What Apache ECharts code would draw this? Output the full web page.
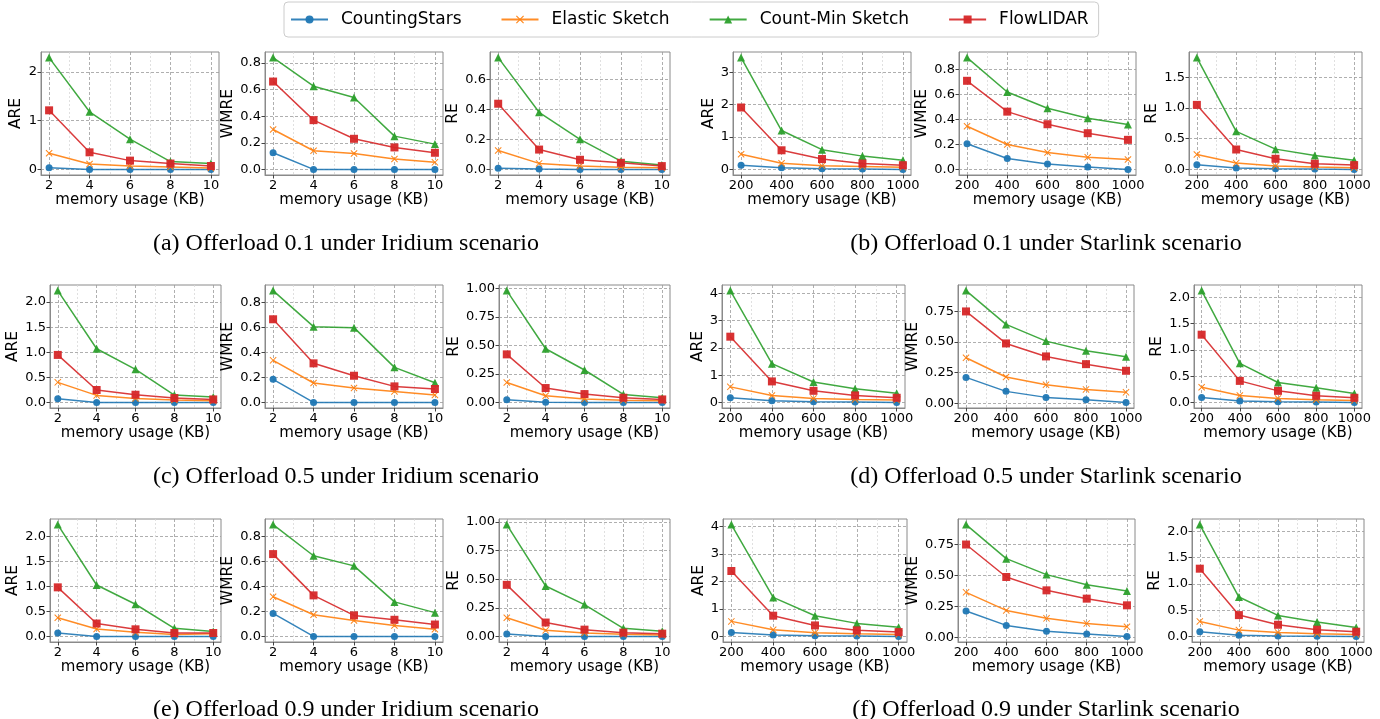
<!DOCTYPE html>
<html><head><meta charset="utf-8">
<script src="https://cdn.jsdelivr.net/npm/echarts@6/dist/echarts.min.js"></script>
<style>html,body{margin:0;padding:0;background:#fff;}#c{width:1380px;height:719px;}</style>
</head><body><div id="c"></div>
<script>
const seriesNames = ['CountingStars', 'Elastic Sketch', 'Count-Min Sketch', 'FlowLIDAR'];
const iridiumMemory = [2, 4, 6, 8, 10];
const starlinkMemory = [200, 400, 600, 800, 1000];
const iridiumTicks = ['2', '4', '6', '8', '10'];
const iridiumMinorTicks = [3, 5, 7, 9];
const starlinkTicks = ['200', '400', '600', '800', '1000'];
const starlinkMinorTicks = [300, 500, 700, 900];
const xAxisName = 'memory usage (KB)';
const captions = [
  '(a) Offerload 0.1 under Iridium scenario', '(b) Offerload 0.1 under Starlink scenario',
  '(c) Offerload 0.5 under Iridium scenario', '(d) Offerload 0.5 under Starlink scenario',
  '(e) Offerload 0.9 under Iridium scenario', '(f) Offerload 0.9 under Starlink scenario'
];

// (a) Offerload 0.1, Iridium
const a_ARE_CS = [0.035, 0, 0, 0, 0];
const a_ARE_ES = [0.33, 0.11, 0.07, 0.05, 0.03];
const a_ARE_CMS = [2.29, 1.18, 0.62, 0.16, 0.12];
const a_ARE_FL = [1.21, 0.35, 0.18, 0.12, 0.07];
const a_WMRE_CS = [0.125, 0, 0, 0, 0];
const a_WMRE_ES = [0.30, 0.14, 0.12, 0.078, 0.053];
const a_WMRE_CMS = [0.84, 0.625, 0.54, 0.25, 0.19];
const a_WMRE_FL = [0.66, 0.37, 0.23, 0.165, 0.125];
const a_RE_CS = [0.007, 0.002, 0, 0, 0];
const a_RE_ES = [0.126, 0.04, 0.022, 0.015, 0.011];
const a_RE_CMS = [0.744, 0.38, 0.20, 0.055, 0.03];
const a_RE_FL = [0.437, 0.132, 0.064, 0.044, 0.022];
// (b) Offerload 0.1, Starlink
const b_ARE_CS = [0.13, 0.05, 0.02, 0.01, 0];
const b_ARE_ES = [0.47, 0.19, 0.11, 0.09, 0.07];
const b_ARE_CMS = [3.45, 1.2, 0.61, 0.41, 0.28];
const b_ARE_FL = [1.91, 0.59, 0.32, 0.18, 0.13];
const b_WMRE_CS = [0.205, 0.088, 0.043, 0.019, 0];
const b_WMRE_ES = [0.346, 0.2, 0.136, 0.098, 0.08];
const b_WMRE_CMS = [0.896, 0.62, 0.49, 0.41, 0.36];
const b_WMRE_FL = [0.71, 0.463, 0.362, 0.29, 0.237];
const b_RE_CS = [0.076, 0.022, 0.011, 0.005, 0];
const b_RE_ES = [0.243, 0.103, 0.054, 0.038, 0.027];
const b_RE_CMS = [1.82, 0.62, 0.33, 0.227, 0.15];
const b_RE_FL = [1.05, 0.324, 0.173, 0.092, 0.07];
// (c) Offerload 0.5, Iridium
const c_ARE_CS = [0.073, 0, 0, 0, 0];
const c_ARE_ES = [0.40, 0.14, 0.08, 0.047, 0.033];
const c_ARE_CMS = [2.23, 1.07, 0.66, 0.147, 0.107];
const c_ARE_FL = [0.947, 0.247, 0.153, 0.087, 0.06];
const c_WMRE_CS = [0.184, 0, 0, 0, 0];
const c_WMRE_ES = [0.336, 0.155, 0.115, 0.088, 0.059];
const c_WMRE_CMS = [0.893, 0.605, 0.597, 0.28, 0.157];
const c_WMRE_FL = [0.664, 0.312, 0.213, 0.128, 0.107];
const c_RE_CS = [0.023, 0.002, 0, 0, 0];
const c_RE_ES = [0.175, 0.058, 0.029, 0.02, 0.015];
const c_RE_CMS = [0.98, 0.47, 0.284, 0.07, 0.041];
const c_RE_FL = [0.421, 0.126, 0.073, 0.041, 0.026];
// (d) Offerload 0.5, Starlink
const d_ARE_CS = [0.17, 0.06, 0.024, 0.012, 0];
const d_ARE_ES = [0.57, 0.255, 0.146, 0.11, 0.085];
const d_ARE_CMS = [4.1, 1.42, 0.75, 0.5, 0.34];
const d_ARE_FL = [2.41, 0.77, 0.425, 0.255, 0.17];
const d_WMRE_CS = [0.212, 0.098, 0.049, 0.03, 0.008];
const d_WMRE_ES = [0.372, 0.215, 0.152, 0.114, 0.09];
const d_WMRE_CMS = [0.92, 0.644, 0.508, 0.43, 0.38];
const d_WMRE_FL = [0.75, 0.489, 0.383, 0.32, 0.266];
const d_RE_CS = [0.095, 0.025, 0.013, 0.006, 0];
const d_RE_ES = [0.29, 0.132, 0.076, 0.05, 0.038];
const d_RE_CMS = [2.13, 0.745, 0.38, 0.278, 0.17];
const d_RE_FL = [1.29, 0.41, 0.22, 0.126, 0.088];
// (e) Offerload 0.9, Iridium
const e_ARE_CS = [0.068, 0, 0, 0, 0];
const e_ARE_ES = [0.373, 0.149, 0.081, 0.04, 0.054];
const e_ARE_CMS = [2.24, 1.03, 0.644, 0.163, 0.10];
const e_ARE_FL = [0.983, 0.258, 0.142, 0.068, 0.068];
const e_WMRE_CS = [0.184, 0, 0, 0, 0];
const e_WMRE_ES = [0.317, 0.173, 0.127, 0.087, 0.057];
const e_WMRE_CMS = [0.894, 0.645, 0.564, 0.276, 0.19];
const e_WMRE_FL = [0.658, 0.328, 0.168, 0.133, 0.095];
const e_RE_CS = [0.021, 0, 0, 0, 0];
const e_RE_ES = [0.163, 0.053, 0.03, 0.018, 0.012];
const e_RE_CMS = [0.976, 0.44, 0.278, 0.071, 0.044];
const e_RE_FL = [0.45, 0.121, 0.059, 0.033, 0.024];
// (f) Offerload 0.9, Starlink
const f_ARE_CS = [0.146, 0.049, 0.024, 0.012, 0];
const f_ARE_ES = [0.547, 0.243, 0.134, 0.097, 0.073];
const f_ARE_CMS = [4.07, 1.42, 0.754, 0.474, 0.33];
const f_ARE_FL = [2.38, 0.754, 0.4, 0.22, 0.158];
const f_WMRE_CS = [0.213, 0.097, 0.049, 0.027, 0.008];
const f_WMRE_ES = [0.364, 0.218, 0.154, 0.113, 0.086];
const f_WMRE_CMS = [0.911, 0.636, 0.507, 0.426, 0.375];
const f_WMRE_FL = [0.75, 0.488, 0.38, 0.313, 0.259];
const f_RE_CS = [0.089, 0.02, 0.01, 0.005, 0];
const f_RE_ES = [0.286, 0.12, 0.076, 0.05, 0.038];
const f_RE_CMS = [2.13, 0.75, 0.40, 0.273, 0.17];
const f_RE_FL = [1.29, 0.406, 0.222, 0.127, 0.089];

// y tick labels
const yTicks_a_ARE = ['0', '1', '2'];
const yTicks_a_WMRE = ['0.0', '0.2', '0.4', '0.6', '0.8'];
const yTicks_a_RE = ['0.0', '0.2', '0.4', '0.6'];
const yTicks_b_ARE = ['0', '1', '2', '3'];
const yTicks_b_WMRE = ['0.0', '0.2', '0.4', '0.6', '0.8'];
const yTicks_b_RE = ['0.0', '0.5', '1.0', '1.5'];
const yTicks_c_ARE = ['0.0', '0.5', '1.0', '1.5', '2.0'];
const yTicks_c_WMRE = ['0.0', '0.2', '0.4', '0.6', '0.8'];
const yTicks_c_RE = ['0.00', '0.25', '0.50', '0.75', '1.00'];
const yTicks_d_ARE = ['0', '1', '2', '3', '4'];
const yTicks_d_WMRE = ['0.00', '0.25', '0.50', '0.75'];
const yTicks_d_RE = ['0.0', '0.5', '1.0', '1.5', '2.0'];
const yTicks_e_ARE = ['0.0', '0.5', '1.0', '1.5', '2.0'];
const yTicks_e_WMRE = ['0.0', '0.2', '0.4', '0.6', '0.8'];
const yTicks_e_RE = ['0.00', '0.25', '0.50', '0.75', '1.00'];
const yTicks_f_ARE = ['0', '1', '2', '3', '4'];
const yTicks_f_WMRE = ['0.00', '0.25', '0.50', '0.75'];
const yTicks_f_RE = ['0.0', '0.5', '1.0', '1.5', '2.0'];

// panels in visual order: each row = iridium (ARE, WMRE, RE) + starlink (ARE, WMRE, RE)
const panels = [
  ['ARE', 'ir', [a_ARE_CS, a_ARE_ES, a_ARE_CMS, a_ARE_FL], yTicks_a_ARE],
  ['WMRE', 'ir', [a_WMRE_CS, a_WMRE_ES, a_WMRE_CMS, a_WMRE_FL], yTicks_a_WMRE],
  ['RE', 'ir', [a_RE_CS, a_RE_ES, a_RE_CMS, a_RE_FL], yTicks_a_RE],
  ['ARE', 'st', [b_ARE_CS, b_ARE_ES, b_ARE_CMS, b_ARE_FL], yTicks_b_ARE],
  ['WMRE', 'st', [b_WMRE_CS, b_WMRE_ES, b_WMRE_CMS, b_WMRE_FL], yTicks_b_WMRE],
  ['RE', 'st', [b_RE_CS, b_RE_ES, b_RE_CMS, b_RE_FL], yTicks_b_RE],
  ['ARE', 'ir', [c_ARE_CS, c_ARE_ES, c_ARE_CMS, c_ARE_FL], yTicks_c_ARE],
  ['WMRE', 'ir', [c_WMRE_CS, c_WMRE_ES, c_WMRE_CMS, c_WMRE_FL], yTicks_c_WMRE],
  ['RE', 'ir', [c_RE_CS, c_RE_ES, c_RE_CMS, c_RE_FL], yTicks_c_RE],
  ['ARE', 'st', [d_ARE_CS, d_ARE_ES, d_ARE_CMS, d_ARE_FL], yTicks_d_ARE],
  ['WMRE', 'st', [d_WMRE_CS, d_WMRE_ES, d_WMRE_CMS, d_WMRE_FL], yTicks_d_WMRE],
  ['RE', 'st', [d_RE_CS, d_RE_ES, d_RE_CMS, d_RE_FL], yTicks_d_RE],
  ['ARE', 'ir', [e_ARE_CS, e_ARE_ES, e_ARE_CMS, e_ARE_FL], yTicks_e_ARE],
  ['WMRE', 'ir', [e_WMRE_CS, e_WMRE_ES, e_WMRE_CMS, e_WMRE_FL], yTicks_e_WMRE],
  ['RE', 'ir', [e_RE_CS, e_RE_ES, e_RE_CMS, e_RE_FL], yTicks_e_RE],
  ['ARE', 'st', [f_ARE_CS, f_ARE_ES, f_ARE_CMS, f_ARE_FL], yTicks_f_ARE],
  ['WMRE', 'st', [f_WMRE_CS, f_WMRE_ES, f_WMRE_CMS, f_WMRE_FL], yTicks_f_WMRE],
  ['RE', 'st', [f_RE_CS, f_RE_ES, f_RE_CMS, f_RE_FL], yTicks_f_RE]
];

// ---- layout (pixels) ----
const rowTop = [52, 285, 519];
const plotH = 123;
const colEdges = [
  [[41, 219], [265, 443], [490, 670], [733, 911], [959, 1136], [1189, 1362]],
  [[50, 221], [265, 443], [499, 670], [722, 905], [958, 1134], [1194, 1362]],
  [[50, 221], [265, 443], [499, 670], [723, 907], [958, 1135], [1192, 1364]]
];
const yNameCenter = [
  [16, 241, 462, 716, 931, 1157],
  [17, 241, 461, 715, 929, 1162],
  [17, 241, 462, 712, 928, 1166]
];
const captionCenterX = [341, 1041];
const captionCenterY = [241, 474, 707];

const colors = ['#1f77b4', '#ff7f0e', '#2ca02c', '#d62728'];
const xSymbol = 'path://M1,0L5,4L9,0L10,1L6,5L10,9L9,10L5,6L1,10L0,9L4,5L0,1Z';
const symbols = ['circle', xSymbol, 'triangle', 'rect'];
const symbolSizes = [7, 7, 8, 8];
const FONT = 'DejaVu Sans';

const grids = [], xAxes = [], yAxes = [], series = [], titles = [];
const minorX = [];

panels.forEach((p, i) => {
  const row = Math.floor(i / 6), col = i % 6;
  const [metric, kind, vals, yt] = p;
  const [l, r] = colEdges[row][col];
  grids.push({left: l, top: rowTop[row], width: r - l, height: plotH,
    show: true, borderColor: '#8a8a8a', borderWidth: 1, backgroundColor: 'transparent'});
  const mem = kind === 'ir' ? iridiumMemory : starlinkMemory;
  const xt = kind === 'ir' ? iridiumTicks : starlinkTicks;
  const xr = mem[mem.length - 1] - mem[0];
  const xmin = mem[0] - 0.05 * xr, xmax = mem[mem.length - 1] + 0.05 * xr;
  const all = [].concat(...vals);
  const lo = Math.min(...all), hi = Math.max(...all);
  const ymin = lo - 0.05 * (hi - lo), ymax = hi + 0.05 * (hi - lo);
  const xVals = xt.map(Number), yVals = yt.map(Number);
  xAxes.push({
    type: 'value', gridIndex: i, min: xmin, max: xmax,
    name: xAxisName, nameLocation: 'middle', nameGap: 18,
    nameTextStyle: {fontFamily: FONT, fontSize: 15, color: '#000', verticalAlign: 'top'},
    axisLine: {show: true, onZero: false, lineStyle: {color: '#8a8a8a', width: 1}},
    axisTick: {show: true, length: 3.5, customValues: xVals, lineStyle: {color: '#444'}},
    axisLabel: {show: true, margin: 4, customValues: xVals, fontFamily: FONT, fontSize: 13, color: '#000',
      formatter: v => xt[xVals.indexOf(v)] !== undefined ? xt[xVals.indexOf(v)] : ''},
    splitLine: {show: true, lineStyle: {color: '#9a9a9a', type: [3, 2], width: 0.8}}
  });
  minorX.push({
    type: 'value', gridIndex: i, min: xmin, max: xmax, position: 'bottom',
    axisLine: {show: false}, axisLabel: {show: false},
    axisTick: {show: false, customValues: kind === 'ir' ? iridiumMinorTicks : starlinkMinorTicks},
    splitLine: {show: true, lineStyle: {color: '#d8d8d8', type: [2, 2], width: 0.8}}
  });
  yAxes.push({
    type: 'value', gridIndex: i, min: ymin, max: ymax,
    name: metric, nameLocation: 'middle', nameGap: l - yNameCenter[row][col] - 7.5,
    nameTextStyle: {fontFamily: FONT, fontSize: 15.5, color: '#000'},
    axisLine: {show: true, onZero: false, lineStyle: {color: '#8a8a8a', width: 1}},
    axisTick: {show: true, length: 3.5, customValues: yVals, lineStyle: {color: '#444'}},
    axisLabel: {show: true, margin: 4, customValues: yVals, fontFamily: FONT, fontSize: 13, color: '#000',
      formatter: v => { const k = yVals.findIndex(t => Math.abs(t - v) < 1e-9); return k >= 0 ? yt[k] : ''; }},
    splitLine: {show: true, lineStyle: {color: '#9a9a9a', type: [3, 2], width: 0.8}}
  });
  vals.forEach((v, s) => {
    series.push({
      name: seriesNames[s], type: 'line', xAxisIndex: i, yAxisIndex: i,
      data: mem.map((m, k) => [m, v[k]]),
      symbol: symbols[s], symbolSize: symbolSizes[s],
      lineStyle: {color: colors[s], width: 1.5, opacity: 0.9},
      itemStyle: {color: colors[s], opacity: 0.95},
      emphasis: {disabled: true}, animation: false, z: 3 + s
    });
  });
});

captions.forEach((t, k) => {
  const row = Math.floor(k / 2), side = k % 2;
  titles.push({text: t, left: captionCenterX[side], top: captionCenterY[row] - 14, textAlign: 'center',
    textStyle: {fontFamily: 'Liberation Serif', fontSize: 24, fontWeight: 'normal', color: '#000'}});
});

const option = {
  animation: false,
  backgroundColor: '#fff',
  title: titles,
  legend: {
    data: seriesNames, left: 284, top: 2, orient: 'horizontal',
    itemWidth: 37, itemHeight: 10, itemGap: 39,
    padding: [9, 10, 9, 6], borderColor: '#cccccc', borderWidth: 1, borderRadius: 4,
    textStyle: {fontFamily: FONT, fontSize: 17, color: '#000', padding: [0, 0, 0, 8]}
  },
  grid: grids,
  xAxis: xAxes.concat(minorX),
  yAxis: yAxes,
  series: series
};
const chart = echarts.init(document.getElementById('c'));
chart.setOption(option);
</script>
</body></html>
